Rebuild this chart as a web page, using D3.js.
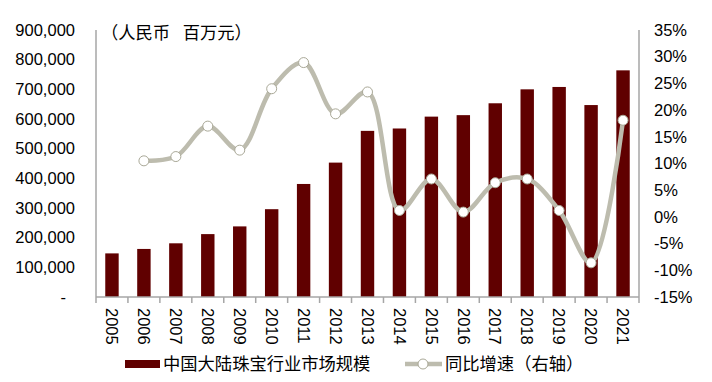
<!DOCTYPE html>
<html><head><meta charset="utf-8">
<script src="https://cdn.jsdelivr.net/npm/d3@7"></script>
<style>body{margin:0;background:#fff;} svg{display:block;font-family:"Liberation Sans",Arial,sans-serif;} .cjk{white-space:pre;}</style>
</head><body><svg id="c" width="712" height="382"></svg>
<script>
const years = ["2005","2006","2007","2008","2009","2010","2011","2012","2013","2014","2015","2016","2017","2018","2019","2020","2021"];
const marketSize = [147000,162000,181000,212000,238000,296000,381000,453000,560000,568000,608000,613000,653000,700000,708000,647000,764000];
const growth = [null,10.5,11.3,17.0,12.5,24.0,28.9,19.3,23.4,1.2,7.1,0.9,6.4,7.1,1.2,-8.6,18.1];
const leftTicks = [0,100000,200000,300000,400000,500000,600000,700000,800000,900000];
const rightTicks = [-15,-10,-5,0,5,10,15,20,25,30,35];
const barName = "中国大陆珠宝行业市场规模";
const lineName = "同比增速（右轴）";
const unitLabel = "（人民币\u2002 百万元）";

const svg = d3.select("#c");
const L = 96, R = 639, T = 30, B = 297;
const x = d3.scaleBand().domain(years).range([L, R]).paddingInner(0.58).paddingOuter(0.29);
const xb = d3.scaleBand().domain(years).range([L, R]);
const yL = d3.scaleLinear().domain([0, 900000]).range([B, T]);
const yR = d3.scaleLinear().domain([-15, 35]).range([B, T]);
const axisColor = "#a6a6a6";
const fs = 16.5;
const cfs = 17.3;
const cjkFont = "'Noto Sans CJK SC',sans-serif";

// bars
svg.append("g").selectAll("rect").data(years).join("rect")
  .attr("x", d => x(d)).attr("width", x.bandwidth())
  .attr("y", (d,i) => yL(marketSize[i])).attr("height", (d,i) => B - yL(marketSize[i]))
  .attr("fill", "#600000");

// axes lines
const g = svg.append("g").attr("stroke", axisColor).attr("stroke-width", 1.5);
g.append("line").attr("x1", L).attr("x2", L).attr("y1", T).attr("y2", B);
g.append("line").attr("x1", R).attr("x2", R).attr("y1", T).attr("y2", B);
g.append("line").attr("x1", L).attr("x2", R).attr("y1", B).attr("y2", B);
const bounds = years.map(d => xb(d)).concat([R]);
g.selectAll("line.tk").data(bounds).join("line").attr("class","tk")
  .attr("x1", d => d).attr("x2", d => d).attr("y1", B).attr("y2", B + 6);

// left tick labels
svg.append("g").selectAll("text").data(leftTicks).join("text")
  .attr("x", d => d === 0 ? 66 : 75).attr("y", d => yL(d)).attr("dy", "0.35em")
  .attr("text-anchor", "end").attr("font-size", fs).attr("fill", "#000")
  .text(d => d === 0 ? "-" : d3.format(",")(d));

// right tick labels
svg.append("g").selectAll("text").data(rightTicks).join("text")
  .attr("x", 654).attr("y", d => yR(d)).attr("dy", "0.35em")
  .attr("text-anchor", "start").attr("font-size", fs).attr("fill", "#000")
  .text(d => d + "%");

// x labels rotated
svg.append("g").selectAll("text").data(years).join("text")
  .attr("transform", d => `translate(${xb(d) + xb.bandwidth()/2},308) rotate(90)`)
  .attr("dy", "0.35em").attr("text-anchor", "start").attr("font-size", fs).attr("fill", "#000")
  .text(d => d);

// unit label
svg.append("text").attr("class","cjk").attr("x", 101).attr("y", 33).attr("dy", "0.35em")
  .attr("font-size", cfs).attr("fill", "#000").attr("font-family", cjkFont)
  .text(unitLabel);

// line
const pts = years.map((d,i) => ({x: xb(d) + xb.bandwidth()/2, v: growth[i]})).filter(p => p.v !== null);
const lineGen = d3.line().x(p => p.x).y(p => yR(p.v)).curve(d3.curveCatmullRom.alpha(0.5));
svg.append("path").datum(pts).attr("d", lineGen).attr("fill", "none")
  .attr("stroke", "#bdbcae").attr("stroke-width", 4.5).attr("stroke-linejoin", "round");
svg.append("g").selectAll("circle").data(pts).join("circle")
  .attr("cx", p => p.x).attr("cy", p => yR(p.v)).attr("r", 5)
  .attr("fill", "#fff").attr("stroke", "#a9a897").attr("stroke-width", 1);

// legend
svg.append("rect").attr("x", 125).attr("y", 360).attr("width", 35).attr("height", 8).attr("fill", "#600000");
svg.append("text").attr("x", 163).attr("y", 364).attr("dy", "0.35em").attr("font-size", cfs)
  .attr("font-family", cjkFont).text(barName);
svg.append("line").attr("x1", 405).attr("x2", 442).attr("y1", 364).attr("y2", 364)
  .attr("stroke", "#bdbcae").attr("stroke-width", 4.5);
svg.append("circle").attr("cx", 423).attr("cy", 364).attr("r", 5).attr("fill", "#fff").attr("stroke", "#a9a897");
svg.append("text").attr("x", 445).attr("y", 364).attr("dy", "0.35em").attr("font-size", cfs)
  .attr("font-family", cjkFont).text(lineName);
</script></body></html>
